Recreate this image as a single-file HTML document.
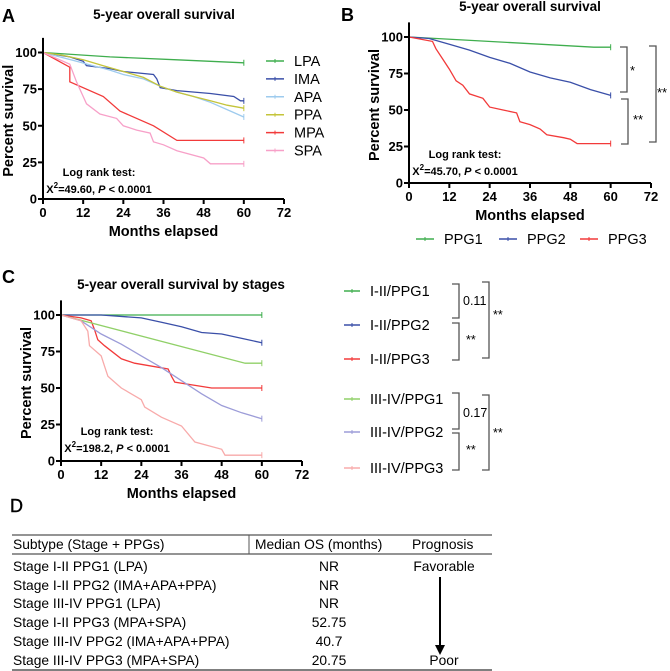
<!DOCTYPE html>
<html><head><meta charset="utf-8">
<style>
html,body{margin:0;padding:0;background:#fff;}
svg{display:block;font-family:"Liberation Sans",Arial,sans-serif;}
.b{font-weight:bold;}
</style></head>
<body>
<svg id="fig" width="670" height="671" viewBox="0 0 670 671" xmlns="http://www.w3.org/2000/svg">
<g id="gA"></g>
<g id="gB"></g>
<g id="gC"></g>
<g id="gD">
  <text x="10" y="512" font-size="18" stroke="#000" stroke-width="0.4">D</text>
  <line x1="12" y1="535" x2="492" y2="535" stroke="#555" stroke-width="1.2"/>
  <line x1="12" y1="554" x2="492" y2="554" stroke="#555" stroke-width="1.2"/>
  <line x1="12" y1="670" x2="492" y2="670" stroke="#555" stroke-width="1.5"/>
  <line x1="249" y1="535" x2="249" y2="554" stroke="#555" stroke-width="1"/>
  <g font-size="13.8" fill="#000">
    <text x="13" y="549">Subtype (Stage + PPGs)</text>
    <text x="255" y="549">Median OS (months)</text>
    <text x="412" y="549">Prognosis</text>
    <text x="13" y="571">Stage I-II PPG1 (LPA)</text>
    <text x="13" y="590">Stage I-II PPG2 (IMA+APA+PPA)</text>
    <text x="13" y="608">Stage III-IV PPG1 (LPA)</text>
    <text x="13" y="627">Stage I-II PPG3 (MPA+SPA)</text>
    <text x="13" y="646">Stage III-IV PPG2 (IMA+APA+PPA)</text>
    <text x="13" y="665">Stage III-IV PPG3 (MPA+SPA)</text>
    <g text-anchor="middle">
    <text x="329" y="571">NR</text>
    <text x="329" y="590">NR</text>
    <text x="329" y="608">NR</text>
    <text x="329" y="627">52.75</text>
    <text x="329" y="646">40.7</text>
    <text x="329" y="665">20.75</text>
    <text x="444" y="571">Favorable</text>
    <text x="444" y="665">Poor</text>
    </g>
  </g>
  <line x1="440" y1="577" x2="440" y2="646" stroke="#000" stroke-width="2"/>
  <polygon points="435,645 445,645 440,655" fill="#000"/>
</g>
</svg>
<script>
const NS="http://www.w3.org/2000/svg";
function el(p,tag,attrs,txt){const e=document.createElementNS(NS,tag);for(const k in attrs)e.setAttribute(k,attrs[k]);if(txt!==undefined)e.textContent=txt;p.appendChild(e);return e;}

// ---------- data ----------
const xTicks=[0,12,24,36,48,60,72];
const yTicks=[0,25,50,75,100];
const namesA=["LPA","IMA","APA","PPA","MPA","SPA"];
const colorsA=["#3fae4e","#3a4fa8","#9ecbee","#c4c43a","#f23a3a","#f7a0c8"];
const lpaT=[0,20,40,60], lpaS=[100,97,95,93];
const imaT=[0,8,12,13,20,24,33,34,35,40,50,57,59,60], imaS=[100,97,94,91,89,87,85,82,76,74,72,70,67,67];
const apaT=[0,5,10,15,20,24,30,35,40,45,50,55,60], apaS=[100,97,94,91,88,85,82,77,73,70,66,61,56];
const ppaT=[0,6,12,18,24,30,35,40,45,50,55,60], ppaS=[100,98,95,91,87,83,77,73,70,67,64,62];
const mpaT=[0,8,8,18,23,33,40,60], mpaS=[100,90,80,70,60,50,40,40];
const spaT=[0,8,10,12,13,17,22,24,28,32,33,36,40,48,50,60], spaS=[100,92,80,70,65,58,55,50,47,45,39,37,33,28,24,24];

const namesB=["PPG1","PPG2","PPG3"];
const colorsB=["#3fae4e","#3a4fa8","#f23a3a"];
const b1T=[0,55,60], b1S=[100,93,93];
const b2T=[0,6,12,18,24,30,36,42,48,54,60], b2S=[100,99,95,91,86,82,76,72,69,64,60];
const b3T=[0,7,8,10,12,14,16,18,22,24,28,32,33,36,39,41,46,48,50,60], b3S=[100,97,92,85,78,70,67,61,58,52,50,48,42,40,37,33,31,30,27,27];

const namesC=["I-II/PPG1","I-II/PPG2","I-II/PPG3","III-IV/PPG1","III-IV/PPG2","III-IV/PPG3"];
const colorsC=["#3fae4e","#3a4fa8","#f23a3a","#90d068","#9c9cd8","#f8aaaa"];
const c1T=[0,60], c1S=[100,100];
const c2T=[0,12,24,30,36,42,48,54,60], c2S=[100,100,98,95,92,88,87,84,81];
const c3T=[0,6,9,10,11,13,18,22,32,33,34,45,60], c3S=[100,98,96,90,83,79,70,67,63,58,54,50,50];
const c4T=[0,55,60], c4S=[100,67,67];
const c5T=[0,6,12,18,24,30,36,42,48,54,60], c5S=[100,96,87,80,72,64,55,46,38,33,29];
const c6T=[0,6,8,8.5,12,13,14,18,24,25,30,36,40,48,49,60], c6S=[100,96,89,79,72,65,58,50,42,37,30,24,13,8,4,4];

// ---------- drawing ----------
function panel(g,o){
  const sx=v=>o.x0+(o.x1-o.x0)*v/72;
  const sy=v=>o.y0-(o.y0-o.y100)*v/100;
  o.series.forEach((s,i)=>{
    const pts=s.t.map((t,j)=>sx(t).toFixed(1)+","+sy(s.s[j]).toFixed(1)).join(" ");
    const pl=el(g,"polyline",{points:pts,fill:"none",stroke:s.c,"stroke-width":1.3});
    
    
    const lx=sx(s.t[s.t.length-1]), ly=sy(s.s[s.s.length-1]);
    el(g,"line",{x1:lx,y1:ly-3,x2:lx,y2:ly+3,stroke:s.c,"stroke-width":1});
  });
  const ax=el(g,"g",{});
  
  
  el(ax,"line",{x1:o.x0,y1:sy(110),x2:o.x0,y2:o.y0+1,stroke:"#000","stroke-width":2});
  el(ax,"line",{x1:o.x0-1,y1:o.y0,x2:o.x1,y2:o.y0,stroke:"#000","stroke-width":2});
  yTicks.forEach(v=>{
    el(ax,"line",{x1:o.x0-5,y1:sy(v),x2:o.x0,y2:sy(v),stroke:"#000","stroke-width":2});
    const t=el(ax,"text",{x:o.x0-6,y:sy(v)+4.5,"text-anchor":"end","font-size":13,"class":"b"},v);
    
    
  });
  xTicks.forEach(v=>{
    el(ax,"line",{x1:sx(v),y1:o.y0,x2:sx(v),y2:o.y0+5,stroke:"#000","stroke-width":2});
    const t=el(ax,"text",{x:sx(v),y:o.y0+18,"text-anchor":"middle","font-size":13,"class":"b"},v);
    
    
  });
  const xt=el(ax,"text",{x:(o.x0+o.x1)/2,y:o.y0+37,"text-anchor":"middle","font-size":14.5,"class":"b"},"Months elapsed");
  
  
  const yc=(o.y0+o.y100)/2-5;
  const yt=el(ax,"text",{x:0,y:0,transform:`translate(${o.x0-30},${yc}) rotate(-90)`,"text-anchor":"middle","font-size":14.5,"class":"b"},"Percent survival");
  
  
  const tt=el(g,"text",{x:o.tx,y:o.ty,"text-anchor":"middle","font-size":13.5,"class":"b"},o.title);
  
  
  const pl=el(g,"text",{x:o.lx,y:o.ly,"font-size":18,"class":"b"},o.label);
  
  
  const lr=el(g,"text",{x:o.rx,y:o.ry,"text-anchor":"middle","font-size":11,"class":"b"},"Log rank test:");
  
  
  const st=el(g,"text",{x:o.rx,y:o.ry+17,"text-anchor":"middle","font-size":11,"class":"b"});
  
  
  st.innerHTML=`X<tspan dy="-5" font-size="8">2</tspan><tspan dy="5">=${o.chi}, </tspan><tspan font-style="italic">P</tspan> &lt; 0.0001`;
}
function legendItem(g,x,y,c,txt,len){
  const li=el(g,"g",{});
  
  
  el(li,"line",{x1:x,y1:y,x2:x+len,y2:y,stroke:c,"stroke-width":1.5});
  el(li,"line",{x1:x+len/2,y1:y-2,x2:x+len/2,y2:y+2,stroke:c,"stroke-width":1});
  el(li,"text",{x:x+len+10,y:y+5,"font-size":14.5},txt);
}
function bracket(g,x,y1,y2,w,label,lx,ly,fs){
  const b=el(g,"path",{d:`M${x-w},${y1} H${x} V${y2} H${x-w}`,fill:"none",stroke:"#555","stroke-width":1.3});
  
  
  const t=el(g,"text",{x:lx,y:ly,"font-size":fs||12},label);
  
  
}

const gA=document.getElementById("gA");
panel(gA,{x0:43,x1:284,y0:199,y100:52.5,title:"5-year overall survival",tx:164,ty:19,label:"A",lx:2,ly:22,rx:99,ry:176,chi:"49.60",
 series:[{t:lpaT,s:lpaS},{t:imaT,s:imaS},{t:apaT,s:apaS},{t:ppaT,s:ppaS},{t:mpaT,s:mpaS},{t:spaT,s:spaS}].map((d,i)=>({t:d.t,s:d.s,c:colorsA[i],n:namesA[i]}))});
namesA.forEach((n,i)=>legendItem(gA,266,61+i*17.9,colorsA[i],n,18));

const gB=document.getElementById("gB");
panel(gB,{x0:409,x1:651,y0:183,y100:37,title:"5-year overall survival",tx:530,ty:11,label:"B",lx:341,ly:21,rx:465,ry:158,chi:"45.70",
 series:[{t:b1T,s:b1S},{t:b2T,s:b2S},{t:b3T,s:b3S}].map((d,i)=>({t:d.t,s:d.s,c:colorsB[i],n:namesB[i]}))});
namesB.forEach((n,i)=>legendItem(gB,[416,499,580][i],239,colorsB[i],n,18));
bracket(gB,627,47,92,7,"*",630,75,13);
bracket(gB,628,99,144,7,"**",633,124,13);
bracket(gB,656,46,142,7,"**",657,97,13);

const gC=document.getElementById("gC");
panel(gC,{x0:61,x1:302,y0:461,y100:315,title:"5-year overall survival by stages",tx:181,ty:289,label:"C",lx:2,ly:283,rx:117,ry:435,chi:"198.2",
 series:[{t:c1T,s:c1S},{t:c2T,s:c2S},{t:c3T,s:c3S},{t:c4T,s:c4S},{t:c5T,s:c5S},{t:c6T,s:c6S}].map((d,i)=>({t:d.t,s:d.s,c:colorsC[i],n:namesC[i]}))});
const legYC=[291,325,359,399,432,468];
namesC.forEach((n,i)=>legendItem(gC,344,legYC[i],colorsC[i],n,16));
bracket(gC,459,284,318,7,"0.11",463,305,12.5);
bracket(gC,459,323,360,7,"**",466,344,12.5);
bracket(gC,489,282,358,7,"**",493,319,12.5);
bracket(gC,459,393,429,7,"0.17",463,417,12.5);
bracket(gC,459,433,470,7,"**",466,454,12.5);
bracket(gC,489,395,470,7,"**",493,437,12.5);
</script>
</body></html>
